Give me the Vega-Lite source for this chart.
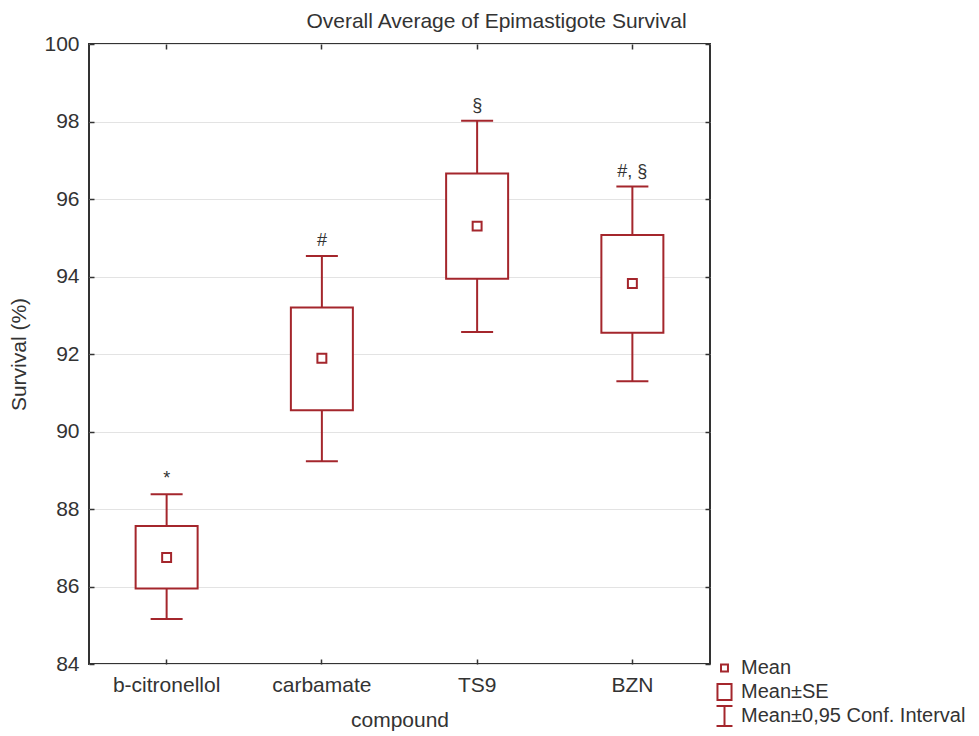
{
  "$schema": "https://vega.github.io/schema/vega-lite/v6.json",
  "autosize": "none",
  "width": 621,
  "height": 620,
  "padding": {"left": 89, "top": 44, "right": 269, "bottom": 72},
  "background": "white",
  "title": {"text": "Overall Average of Epimastigote Survival", "anchor": "middle", "frame": "group", "dx": 97, "offset": 1, "fontSize": 21, "fontWeight": "normal", "font": "Liberation Sans", "color": "#333"},
  "config": {
    "font": "Liberation Sans",
    "view": {"stroke": "#333", "strokeWidth": 2},
    "axis": {"domain": false, "labelFont": "Liberation Sans", "titleFont": "Liberation Sans", "labelFontSize": 21, "titleFontSize": 21, "titleFontWeight": "normal", "labelColor": "#333", "titleColor": "#333", "tickColor": "#333", "tickWidth": 1.5, "gridColor": "#e3e3e3", "gridWidth": 1.2},
    "legend": {"labelFont": "Liberation Sans", "labelFontSize": 20, "labelColor": "#333", "labelLimit": 0}
  },
  "datasets": {
    "stats": [
      {"compound": "b-citronellol", "mean": 86.75, "se_lo": 85.95, "se_hi": 87.56, "ci_lo": 85.16, "ci_hi": 88.38, "sig": "*"},
      {"compound": "carbamate", "mean": 91.89, "se_lo": 90.55, "se_hi": 93.2, "ci_lo": 89.23, "ci_hi": 94.53, "sig": "#"},
      {"compound": "TS9", "mean": 95.3, "se_lo": 93.94, "se_hi": 96.66, "ci_lo": 92.57, "ci_hi": 98.02, "sig": "§"},
      {"compound": "BZN", "mean": 93.82, "se_lo": 92.55, "se_hi": 95.07, "ci_lo": 91.3, "ci_hi": 96.32, "sig": "#, §"}
    ],
    "legendItems": [
      {"item": "Mean"},
      {"item": "Mean±SE"},
      {"item": "Mean±0,95 Conf. Interval"}
    ]
  },
  "resolve": {"axis": {"x": "independent", "y": "independent"}},
  "layer": [
    {
      "data": {"name": "stats"},
      "mark": {"type": "rule", "color": "#a4262c", "strokeWidth": 2, "opacity": 1},
      "encoding": {
        "x": {"field": "compound", "type": "nominal", "sort": null, "scale": {"type": "band", "paddingInner": 0, "paddingOuter": 0},
              "axis": {"orient": "bottom", "title": "compound", "labelAngle": 0, "labelPadding": 15, "titlePadding": 14, "tickSize": -5, "grid": false}},
        "y": {"field": "ci_lo", "type": "quantitative", "scale": {"domain": [84, 100], "nice": false, "zero": false},
              "axis": {"orient": "left", "title": "Survival (%)", "values": [84, 86, 88, 90, 92, 94, 96, 98, 100], "tickSize": -5, "labelPadding": 15, "titlePadding": 14, "grid": true}},
        "y2": {"field": "ci_hi"}
      }
    },
    {
      "data": {"name": "stats"},
      "mark": {"type": "tick", "color": "#a4262c", "thickness": 2, "size": 32, "opacity": 1},
      "encoding": {
        "x": {"field": "compound", "type": "nominal", "sort": null,
              "axis": {"orient": "top", "title": null, "labels": false, "tickSize": -5, "grid": false}},
        "y": {"field": "ci_hi", "type": "quantitative",
              "axis": {"orient": "right", "title": null, "labels": false, "values": [84, 86, 88, 90, 92, 94, 96, 98, 100], "tickSize": -5, "grid": false}}
      }
    },
    {
      "data": {"name": "stats"},
      "mark": {"type": "tick", "color": "#a4262c", "thickness": 2, "size": 32, "opacity": 1},
      "encoding": {
        "x": {"field": "compound", "type": "nominal", "sort": null, "axis": null},
        "y": {"field": "ci_lo", "type": "quantitative", "axis": null}
      }
    },
    {
      "data": {"name": "stats"},
      "mark": {"type": "bar", "fill": "white", "stroke": "#a4262c", "strokeWidth": 2, "size": 62, "opacity": 1},
      "encoding": {
        "x": {"field": "compound", "type": "nominal", "sort": null, "axis": null},
        "y": {"field": "se_lo", "type": "quantitative", "axis": null},
        "y2": {"field": "se_hi"}
      }
    },
    {
      "data": {"name": "stats"},
      "mark": {"type": "point", "shape": "square", "filled": false, "color": "#a4262c", "strokeWidth": 2, "size": 80, "opacity": 1},
      "encoding": {
        "x": {"field": "compound", "type": "nominal", "sort": null, "axis": null},
        "y": {"field": "mean", "type": "quantitative", "axis": null}
      }
    },
    {
      "data": {"name": "stats"},
      "mark": {"type": "text", "font": "Liberation Sans", "fontSize": 18, "color": "#333", "baseline": "alphabetic", "dy": -10},
      "encoding": {
        "x": {"field": "compound", "type": "nominal", "sort": null, "axis": null},
        "y": {"field": "ci_hi", "type": "quantitative", "axis": null},
        "text": {"field": "sig"}
      }
    },
    {
      "data": {"name": "legendItems"},
      "mark": {"type": "point", "filled": false, "color": "#a4262c", "strokeWidth": 2, "opacity": 0},
      "encoding": {
        "shape": {"field": "item", "type": "nominal",
                  "scale": {"domain": ["Mean", "Mean±SE", "Mean±0,95 Conf. Interval"],
                            "range": ["M0,-1M0,1M-0.33,-0.33H0.33V0.33H-0.33Z", "M0,-1M0,1M-0.67,-0.76H0.67V0.76H-0.67Z", "M-0.76,-0.95H0.76M0,-0.95V0.95M-0.76,0.95H0.76M0,-1M0,1"]},
                  "legend": {"title": null, "orient": "none", "legendX": 624, "legendY": 613, "symbolSize": 441, "symbolStrokeWidth": 2, "symbolStrokeColor": "#a4262c", "symbolFillColor": "transparent", "symbolOpacity": 1, "rowPadding": 2, "labelOffset": 5, "padding": 0, "clipHeight": 22}}
      }
    }
  ]
}
